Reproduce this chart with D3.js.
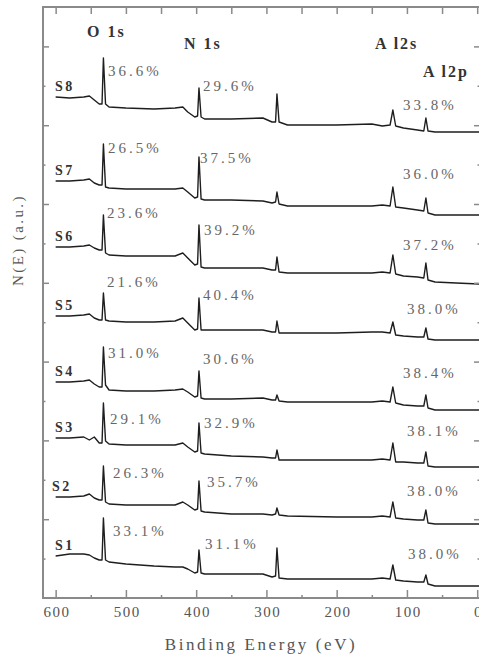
<!DOCTYPE html>
<html><head><meta charset="utf-8">
<script src="https://cdn.jsdelivr.net/npm/d3@7"></script>
<style>body{margin:0;background:#fff}svg{display:block}</style>
</head><body><svg id="c" width="479" height="661"></svg>
<script>
// Binding energy grid (eV)
const energy = [600,580,560,552,545,538,534,532,529,524,500,460,430,419,412,402,398,396,393,388,350,305,292,287,285,282,270,200,150,135,124,120,116,105,85,76,73,70,60,30,-3];
const samples = ["S1","S2","S3","S4","S5","S6","S7","S8"];
// N(E), arbitrary units, stacked spectra
const intensityS1 = [42,44,44,43,40,38,38,80,38,36,34,32,31,31,29,25,26,48,25,24,24,24,21,22,50,20,19,19,19,20,19,33,18,17,16,16,23,14,12,12,12];
const intensityS2 = [101,101,102,104,100,98,98,132,96,94,93,93,93,96,93,88,89,117,87,86,84,84,83,84,90,83,82,81,81,82,81,96,80,79,78,78,88,75,74,74,74];
const intensityS3 = [160,160,161,158,161,155,155,195,157,154,153,153,153,155,151,146,147,175,145,144,142,141,140,140,148,138,138,138,138,139,138,155,136,136,135,135,146,132,131,131,131];
const intensityS4 = [216,216,217,218,214,211,211,251,213,208,207,207,208,209,206,201,202,227,200,199,199,200,198,198,203,197,196,196,196,197,196,211,195,193,192,192,203,190,188,188,188];
const intensityS5 = [282,282,283,284,280,278,278,305,278,277,276,276,277,280,275,268,269,300,268,268,268,268,266,266,277,265,265,265,266,266,265,276,263,262,261,261,270,259,258,258,258];
const intensityS6 = [351,351,352,353,350,348,348,383,345,343,342,342,342,345,340,333,334,373,331,330,330,330,328,328,341,326,325,325,325,326,325,343,324,322,321,320,335,318,316,315,314];
const intensityS7 = [417,417,418,419,415,413,413,454,411,410,409,409,409,410,406,400,401,441,399,398,398,397,395,396,406,394,392,392,392,393,392,411,391,390,388,387,400,385,383,383,383];
const intensityS8 = [501,500,501,502,498,494,494,540,494,491,490,489,490,491,486,481,482,510,481,479,479,480,476,476,504,476,473,473,474,472,473,488,472,470,468,467,480,467,466,466,466];
const o1sPercent = ["33.1%","26.3%","29.1%","31.0%","21.6%","23.6%","26.5%","36.6%"];
const n1sPercent = ["31.1%","35.7%","32.9%","30.6%","40.4%","39.2%","37.5%","29.6%"];
const alPercent  = ["38.0%","38.0%","38.1%","38.4%","38.0%","37.2%","36.0%","33.8%"];
const peakNames = ["O 1s","N 1s","A l2s","A l2p"];
const xTickValues = [600,500,400,300,200,100,0];
const xMinorTickValues = [550,450,350,250,150,50];

const series = [intensityS1,intensityS2,intensityS3,intensityS4,intensityS5,intensityS6,intensityS7,intensityS8];

// label anchors (data units: energy, intensity)
const o1sAt = [[518.4,62],[518.4,120],[522.7,174],[525.5,240],[527,311],[527,380],[525.5,445],[525.5,522]];
const n1sAt = [[387.4,49],[384.6,111],[388.8,170],[390.3,234],[390.3,298],[388.8,363],[394.5,435],[390.3,507]];
const alAt  = [[98.5,39],[99.9,102],[99.9,162],[105.6,220],[99.9,284],[105.6,348],[105.6,419],[105.6,488]];
const peakNameAt = [[555.4,561],[417.3,549],[145.5,549],[77.2,521]];

const svg = d3.select("#c");
const L=43, T=7, R=480, B=598;
const x = d3.scaleLinear().domain([618,-4]).range([L,R]);
const y = d3.scaleLinear().domain([0,591]).range([B,T]);
const frameColor = "#8a8a8a";
const serif = "'Liberation Serif','Times New Roman',serif";

svg.append("defs").append("clipPath").attr("id","clip")
  .append("rect").attr("x",L).attr("y",T).attr("width",R-L).attr("height",B-T);

// spectra
const line = d3.line().x(d=>x(d[0])).y(d=>y(d[1]));
svg.append("g").attr("clip-path","url(#clip)")
  .selectAll("path").data(series).join("path")
  .attr("d", s => line(d3.zip(energy, s)))
  .attr("fill","none").attr("stroke","#1e1e1e").attr("stroke-width",1.4)
  .attr("stroke-linejoin","round");

// axes
function styleAxis(g){
  g.select(".domain").remove();
  g.selectAll(".tick line").attr("stroke",frameColor).attr("stroke-width",1.5);
}
svg.append("g").attr("transform",`translate(0,${B})`)
  .call(d3.axisBottom(x).tickValues(xTickValues).tickSize(-8).tickPadding(8).tickFormat(d3.format("d")))
  .call(styleAxis)
  .call(g=>g.selectAll("text").attr("font-family",serif).attr("font-size",15)
     .attr("fill","#555").attr("letter-spacing","1.5px").attr("dx","0.75px"));
svg.append("g").attr("transform",`translate(0,${B})`)
  .call(d3.axisBottom(x).tickValues(xMinorTickValues).tickSize(-3).tickFormat(""))
  .call(styleAxis);
svg.append("g").attr("transform",`translate(0,${T})`)
  .call(d3.axisTop(x).tickValues(xTickValues.concat(xMinorTickValues)).tickSize(-7).tickFormat(""))
  .call(styleAxis);

const yTicks = d3.range(1,15).map(k=>k*591/15);
const yMajor = yTicks.filter((d,i)=>i%2===1);
const yMinor = yTicks.filter((d,i)=>i%2===0);
svg.append("g").attr("transform",`translate(${L},0)`)
  .call(d3.axisLeft(y).tickValues(yMajor).tickSize(-6).tickFormat("")).call(styleAxis);
svg.append("g").attr("transform",`translate(${L},0)`)
  .call(d3.axisLeft(y).tickValues(yMinor).tickSize(-2.5).tickFormat("")).call(styleAxis);
svg.append("g").attr("transform",`translate(${R},0)`)
  .call(d3.axisRight(y).tickValues(yMajor).tickSize(-6).tickFormat("")).call(styleAxis);
svg.append("g").attr("transform",`translate(${R},0)`)
  .call(d3.axisRight(y).tickValues(yMinor).tickSize(-2.5).tickFormat("")).call(styleAxis);

// frame
svg.append("rect").attr("x",L).attr("y",T).attr("width",R-L).attr("height",B-T)
  .attr("fill","none").attr("stroke",frameColor).attr("stroke-width",2);

// axis titles
svg.append("text").attr("x",261).attr("y",650).attr("text-anchor","middle")
  .attr("font-family",serif).attr("font-size",17).attr("fill","#555")
  .attr("letter-spacing","2.6px").text("Binding Energy (eV)");
svg.append("text").attr("transform","translate(23,240) rotate(-90)").attr("text-anchor","middle")
  .attr("font-family",serif).attr("font-size",15).attr("fill","#555")
  .attr("letter-spacing","2.4px").text("N(E) (a.u.)");

// sample labels
svg.append("g").selectAll("text").data(samples).join("text")
  .attr("x",(d,i)=> i===1 ? 52 : 55)
  .attr("y",(d,i)=> y(series[i][0]) - 6)
  .attr("font-family",serif).attr("font-size",14).attr("font-weight","bold")
  .attr("fill","#333").attr("letter-spacing","2.5px").text(d=>d);

// percentages
function pct(labels, at){
  svg.append("g").selectAll("text").data(labels).join("text")
    .attr("x",(d,i)=>x(at[i][0])).attr("y",(d,i)=>y(at[i][1]))
    .attr("font-family",serif).attr("font-size",15).attr("fill","#666")
    .attr("letter-spacing","3px").text(d=>d);
}
pct(o1sPercent,o1sAt); pct(n1sPercent,n1sAt); pct(alPercent,alAt);

// peak names
svg.append("g").selectAll("text").data(peakNames).join("text")
  .attr("x",(d,i)=>x(peakNameAt[i][0])).attr("y",(d,i)=>y(peakNameAt[i][1]))
  .attr("font-family",serif).attr("font-size",16).attr("font-weight","bold")
  .attr("fill","#333").attr("letter-spacing","2px").text(d=>d);
</script></body></html>
